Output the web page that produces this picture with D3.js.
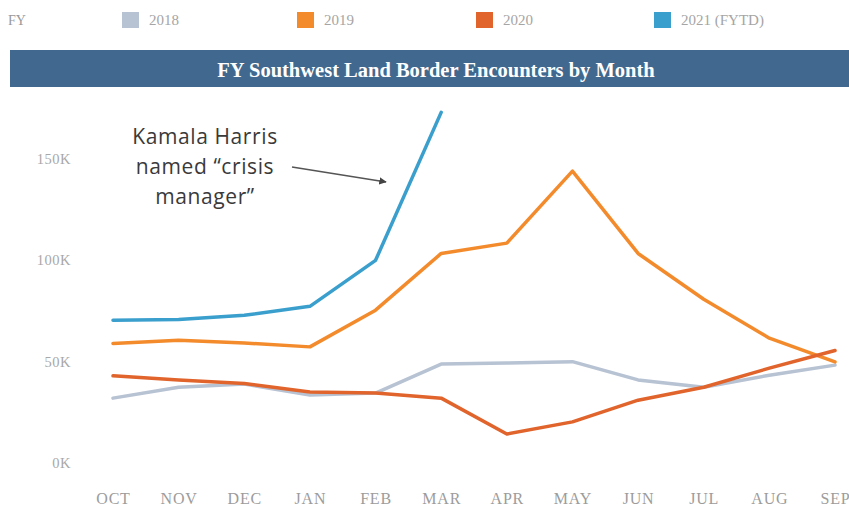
<!DOCTYPE html>
<html lang="en">
<head>
  <meta charset="UTF-8">
  <title>FY Southwest Land Border Encounters by Month</title>
  <script src="https://d3js.org/d3.v7.min.js"></script>
  <style>
    body {
      margin: 0;
      background: #fff;
      overflow: hidden;
    }
    .serif {
      font-family: "Liberation Serif", "DejaVu Serif", serif;
    }
  </style>
</head>
<body>
  <div id="chart"></div>

  <script>
    // month labels and tick values
    const months = ["OCT", "NOV", "DEC", "JAN", "FEB", "MAR", "APR", "MAY", "JUN", "JUL", "AUG", "SEP"];
    const yTicks = [0, 50000, 100000, 150000];

    // encounters per month
    const fy2018 = [32000, 37400, 39000, 33500, 34500, 48800, 49300, 50000, 41000, 37400, 43300, 48300];
    const fy2019 = [59000, 60600, 59200, 57300, 75400, 103400, 108500, 144000, 103400, 80800, 61600, 49900];
    const fy2020 = [43000, 41000, 39200, 35000, 34500, 32000, 14300, 20300, 31000, 37400, 46800, 55500];
    const fy2021 = [70400, 70800, 72900, 77300, 100000, 173000];

    const seriesNames = ["2018", "2019", "2020", "2021 (FYTD)"];
    const seriesData = [fy2018, fy2019, fy2020, fy2021];
    const colors = ["#b7c2d3", "#f38b2c", "#e0642b", "#3a9fcd"];

    const width = 849;
    const height = 506;

    const svg = d3.select("#chart")
      .append("svg")
      .attr("width", width)
      .attr("height", height);

    const x = d3.scalePoint()
      .domain(months)
      .range([113, 835]);

    const y = d3.scaleLinear()
      .domain([0, 150000])
      .range([463, 159]);

    // legend row
    svg.append("text")
      .attr("class", "serif")
      .attr("x", 8)
      .attr("y", 25)
      .attr("font-size", 14)
      .attr("fill", "#9a9a9a")
      .text("FY");

    const legendX = [122, 297, 476, 654];
    const legend = svg.selectAll(".legend")
      .data(seriesNames)
      .enter()
      .append("g")
      .attr("transform", (d, i) => `translate(${legendX[i]},0)`);

    legend.append("rect")
      .attr("x", 0)
      .attr("y", 12)
      .attr("width", 17)
      .attr("height", 16)
      .attr("fill", (d, i) => colors[i]);

    legend.append("text")
      .attr("class", "serif")
      .attr("x", 27)
      .attr("y", 25)
      .attr("font-size", 15)
      .attr("fill", "#a5a5a5")
      .text(d => d);

    // title banner
    svg.append("rect")
      .attr("x", 10)
      .attr("y", 50)
      .attr("width", width - 10)
      .attr("height", 37)
      .attr("fill", "#41698f");

    svg.append("text")
      .attr("class", "serif")
      .attr("x", 436)
      .attr("y", 77)
      .attr("text-anchor", "middle")
      .attr("font-size", 20.5)
      .attr("font-weight", "bold")
      .attr("fill", "#fff")
      .text("FY Southwest Land Border Encounters by Month");

    // axes
    const yAxis = svg.append("g")
      .attr("transform", "translate(71,0)")
      .call(d3.axisLeft(y)
        .tickValues(yTicks)
        .tickSize(0)
        .tickPadding(0)
        .tickFormat(d => (d / 1000) + "K"));
    yAxis.select(".domain").remove();
    yAxis.selectAll("text")
      .attr("class", "serif")
      .attr("font-size", 14.5)
      .attr("letter-spacing", 0.5)
      .attr("fill", "#a8a8a8");

    const xAxis = svg.append("g")
      .attr("transform", "translate(0,493)")
      .call(d3.axisBottom(x).tickSize(0).tickPadding(0));
    xAxis.select(".domain").remove();
    xAxis.selectAll("text")
      .attr("class", "serif")
      .attr("font-size", 16)
      .attr("letter-spacing", 0.8)
      .attr("fill", "#9c9c9c");

    // lines
    const line = d3.line()
      .x((d, i) => x(months[i]))
      .y(d => y(d));

    svg.selectAll(".series")
      .data(seriesData)
      .enter()
      .append("path")
      .attr("fill", "none")
      .attr("stroke", (d, i) => colors[i])
      .attr("stroke-width", 3.5)
      .attr("stroke-linejoin", "round")
      .attr("stroke-linecap", "round")
      .attr("d", line);

    // annotation
    const note = ["Kamala Harris", "named \u201ccrisis", "manager\u201d"];
    svg.append("g")
      .selectAll("text")
      .data(note)
      .enter()
      .append("text")
      .attr("x", 205)
      .attr("y", (d, i) => 144 + i * 30)
      .attr("text-anchor", "middle")
      .attr("font-family", "'Open Sans', 'Noto Sans', sans-serif")
      .attr("font-size", 21)
      .attr("letter-spacing", 0.6)
      .attr("fill", "#3a3a3a")
      .text(d => d);

    svg.append("defs")
      .append("marker")
      .attr("id", "arrow")
      .attr("viewBox", "0 0 10 10")
      .attr("refX", 9)
      .attr("refY", 5)
      .attr("markerWidth", 5)
      .attr("markerHeight", 5)
      .attr("orient", "auto")
      .append("path")
      .attr("d", "M0,0L10,5L0,10z")
      .attr("fill", "#444");

    svg.append("line")
      .attr("x1", 292)
      .attr("y1", 167)
      .attr("x2", 386)
      .attr("y2", 182)
      .attr("stroke", "#555")
      .attr("stroke-width", 1.5)
      .attr("marker-end", "url(#arrow)");
  </script>
</body>
</html>
